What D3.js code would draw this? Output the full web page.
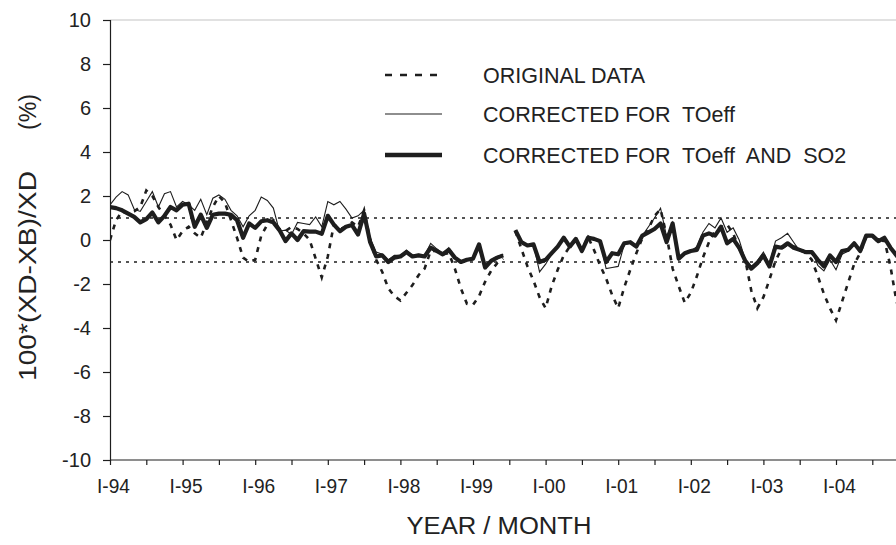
<!DOCTYPE html>
<html>
<head>
<meta charset="utf-8">
<script src="https://cdn.jsdelivr.net/npm/d3@7"></script>
<style>
  html, body { margin: 0; padding: 0; background: #fff; }
  svg { display: block; }
  text { font-family: "Liberation Sans", Arial, sans-serif; fill: #222; }
</style>
</head>
<body>
<svg id="chart" width="896" height="545"></svg>
<script>
// ---- data (monthly, index 0 = January 1994) ----
const yearLabels = ["I-94","I-95","I-96","I-97","I-98","I-99","I-00","I-01","I-02","I-03","I-04"];
const yTicks = [-10,-8,-6,-4,-2,0,2,4,6,8,10];
const refLevels = [1, -1];

const originalData = [
  0.0, 0.9, 1.3, 1.2, 1.3, 1.5, 2.25, 2.0, 1.5, 1.1, 0.7, 0.0,
  0.4, 0.6, 0.3, 0.1, 0.8, 1.5, 2.0, 1.7, 0.9, 0.1, -0.8, -1.0,
  -0.9, 0.2, 0.7, 0.9, 0.5, 0.4, 0.6, 0.5, 0.3, 0.0, -0.85, -1.7,
  -0.75, 0.7, 0.5, 0.6, 0.8, 0.6, 1.35, 0.0, -0.9, -1.45, -2.2, -2.55,
  -2.75, -2.4, -2.05, -1.6, -1.3, -0.5, -0.5, -0.65, -0.6, -1.3, -2.2, -2.9,
  -2.95, -2.55, -1.9, -1.4, -1.05, -0.85, null, 0.4, -0.4, -1.2, -1.85, -2.6,
  -3.1, -2.1, -1.35, -0.7, -0.3, 0.0, -0.45, 0.15, -0.45, -1.15, -1.75, -2.5,
  -3.1, -2.15, -1.35, -0.6, 0.1, 0.5, 1.1, 1.4, 0.2, -1.3, -2.1, -2.85,
  -2.4, -1.65, -0.8, -0.1, 0.4, 0.6, 0.7, 0.3, -0.4, -0.9, -2.3, -3.1,
  -2.6, -1.8, -0.95, -0.4, -0.2, -0.3, -0.35, -0.6, -0.9, -1.65, -2.45, -3.1,
  -3.65, -2.8, -1.95, -1.1, -0.6, 0.15, 0.2, -0.1, 0.0, -1.2, -2.8, -3.5
];
const correctedTOeff = [
  1.6, 1.95, 2.2, 2.05, 1.4, 1.3, 1.75, 2.2, 1.5, 2.1, 2.2, 1.5,
  1.75, 1.6, 1.35, 1.85, 1.15, 1.9, 2.05, 1.85, 1.35, 1.1, 0.6, 1.1,
  1.35, 1.95, 1.8, 1.45, 0.4, 0.45, 0.25, 0.8, 0.75, 0.7, 1.05, 0.6,
  1.75, 1.6, 1.75, 1.4, 1.0, 1.1, 1.35, 0.1, -0.55, -0.65, -0.9, -0.7,
  -0.7, -0.45, -0.7, -0.65, -0.7, -0.15, -0.4, -0.6, -0.35, -0.75, -0.95, -0.85,
  -0.8, -0.2, -1.2, -0.9, -0.75, -0.65, null, 0.45, -0.1, -0.25, -0.2, -1.45,
  -1.1, -0.65, -0.3, 0.1, -0.25, 0.05, -0.45, 0.2, 0.05, -0.05, -1.3, -1.25,
  -1.2, -0.2, -0.15, -0.3, 0.2, 0.6, 1.0, 1.45, 0.15, 0.8, -0.9, -0.6,
  -0.5, -0.3, 0.35, 0.75, 0.55, 1.0, 0.35, 0.55, 0.0, -0.9, -1.2, -0.95,
  -0.55, -1.1, -0.05, 0.1, 0.3, -0.1, -0.5, -0.6, -0.5, -1.15, -1.4, -0.9,
  -1.35, -0.65, -0.5, -0.2, -0.55, 0.15, 0.15, -0.1, 0.05, -0.35, -0.8, -1.1
];
const correctedTOeffSO2 = [
  1.5, 1.45, 1.35, 1.2, 1.05, 0.8, 0.95, 1.25, 0.8, 1.1, 1.5, 1.35,
  1.6, 1.65, 0.6, 1.15, 0.55, 1.15, 1.2, 1.2, 1.15, 0.9, 0.1, 0.75,
  0.55, 0.85, 0.9, 0.8, 0.45, -0.05, 0.3, 0.0, 0.4, 0.38, 0.38, 0.28,
  1.1, 0.7, 0.4, 0.6, 0.68, 0.25, 1.2, -0.1, -0.75, -0.7, -1.0, -0.8,
  -0.75, -0.55, -0.75, -0.7, -0.75, -0.35, -0.5, -0.65, -0.45, -0.8, -1.0, -0.9,
  -0.85, -0.2, -1.25, -0.95, -0.8, -0.7, null, 0.45, -0.1, -0.25, -0.2, -1.0,
  -0.9, -0.6, -0.3, 0.1, -0.3, 0.05, -0.5, 0.1, 0.05, -0.05, -1.0, -0.6,
  -0.65, -0.15, -0.1, -0.3, 0.2, 0.35, 0.5, 0.75, -0.1, 0.75, -0.85, -0.6,
  -0.5, -0.45, 0.2, 0.3, 0.2, 0.6, -0.15, 0.05, -0.35, -0.95, -1.3, -1.05,
  -0.7, -1.2, -0.3, -0.35, -0.15, -0.35, -0.45, -0.55, -0.55, -0.9, -1.2, -0.7,
  -1.0, -0.5, -0.45, -0.15, -0.5, 0.2, 0.2, -0.05, 0.1, -0.35, -0.7, -1.0
];
const legendLabels = ["ORIGINAL DATA", "CORRECTED FOR  TOeff", "CORRECTED FOR  TOeff  AND  SO2"];

// ---- layout ----
const svg = d3.select("#chart");
const pLeft = 110, pRight = 836, pTop = 20, pBottom = 460, svgW = 896;
const x = d3.scaleLinear().domain([0, 120]).range([pLeft, pRight]);
const y = d3.scaleLinear().domain([-10, 10]).range([pBottom, pTop]);
const ink = "#1e1e1e";

svg.append("defs").append("clipPath").attr("id", "plotclip")
  .append("rect").attr("x", pLeft).attr("y", pTop - 5).attr("width", svgW - pLeft).attr("height", pBottom - pTop + 10);

// top frame line (light)
svg.append("line").attr("x1", pLeft).attr("x2", svgW).attr("y1", y(10)).attr("y2", y(10))
  .attr("stroke", "#c4c4c4").attr("stroke-width", 1.2);

// reference dotted lines
svg.selectAll("line.ref").data(refLevels).join("line").attr("class", "ref")
  .attr("x1", pLeft).attr("x2", svgW).attr("y1", d => y(d)).attr("y2", d => y(d))
  .attr("stroke", ink).attr("stroke-width", 1.6).attr("stroke-dasharray", "3,5");

// y axis
const yAxis = d3.axisLeft(y).tickValues(yTicks).tickSize(7).tickPadding(12).tickFormat(d3.format("d"));
const gy = svg.append("g").attr("transform", `translate(${pLeft},0)`).call(yAxis);
gy.select(".domain").attr("stroke", ink).attr("stroke-width", 1.2);
gy.selectAll(".tick line").attr("stroke", ink).attr("stroke-width", 1.2);
gy.selectAll(".tick text").attr("font-size", 20).attr("fill", "#222")
  .attr("font-family", "'Liberation Sans', Arial, sans-serif")
  .text(d => d < 0 ? "-" + Math.abs(d) : d);

// x axis: ticks every 6 months
const xTickVals = d3.range(0, 131, 6);
const xAxis = d3.axisBottom(x).tickValues(xTickVals).tickSize(5).tickPadding(14)
  .tickFormat(d => d % 12 === 0 ? yearLabels[d / 12] : "");
const gx = svg.append("g").attr("transform", `translate(0,${pBottom})`).call(xAxis);
gx.select(".domain").attr("stroke", ink).attr("stroke-width", 1.2).attr("d", `M${pLeft},0H${svgW}`);
gx.selectAll(".tick line").attr("stroke", ink).attr("stroke-width", 1.2);
gx.selectAll(".tick text").attr("font-size", 20).attr("fill", "#222").attr("dx", 3)
  .attr("font-family", "'Liberation Sans', Arial, sans-serif")
  .attr("textLength", 33).attr("lengthAdjust", "spacingAndGlyphs");

// axis titles
svg.append("text").attr("x", 499).attr("y", 534).attr("text-anchor", "middle")
  .attr("font-size", 23).attr("textLength", 185).attr("lengthAdjust", "spacingAndGlyphs")
  .text("YEAR / MONTH");
svg.append("text").attr("transform", `translate(36,276) rotate(-90)`).attr("text-anchor", "middle")
  .attr("font-size", 23).attr("textLength", 210).attr("lengthAdjust", "spacingAndGlyphs")
  .text("100*(XD-XB)/XD");
svg.append("text").attr("transform", `translate(36,112) rotate(-90)`).attr("text-anchor", "middle")
  .attr("font-size", 23).attr("textLength", 36).attr("lengthAdjust", "spacingAndGlyphs")
  .text("(%)");

// series
const line = d3.line().defined(d => d.v !== null).x(d => x(d.m)).y(d => y(d.v));
const toPts = arr => arr.map((v, m) => ({ m, v }));
const plot = svg.append("g").attr("clip-path", "url(#plotclip)");

plot.append("path").datum(toPts(originalData)).attr("d", line)
  .attr("fill", "none").attr("stroke", ink).attr("stroke-width", 2.6).attr("stroke-dasharray", "5,6");
plot.append("path").datum(toPts(correctedTOeff)).attr("d", line)
  .attr("fill", "none").attr("stroke", ink).attr("stroke-width", 1.1).attr("stroke-linejoin", "miter");
plot.append("path").datum(toPts(correctedTOeffSO2)).attr("d", line)
  .attr("fill", "none").attr("stroke", ink).attr("stroke-width", 4.2).attr("stroke-linejoin", "round");

// legend
const legendRows = [
  { label: legendLabels[0], w: 2.6, dash: "7,8", y: 75 },
  { label: legendLabels[1], w: 1.1, dash: null, y: 114 },
  { label: legendLabels[2], w: 4.5, dash: null, y: 155 }
];
const lg = svg.append("g");
legendRows.forEach(r => {
  lg.append("line").attr("x1", 385).attr("x2", 442).attr("y1", r.y).attr("y2", r.y)
    .attr("stroke", ink).attr("stroke-width", r.w).attr("stroke-dasharray", r.dash);
  lg.append("text").attr("x", 483).attr("y", r.y).attr("dy", "0.35em")
    .attr("font-size", 21.5).style("white-space", "pre").text(r.label);
});
</script>
</body>
</html>
